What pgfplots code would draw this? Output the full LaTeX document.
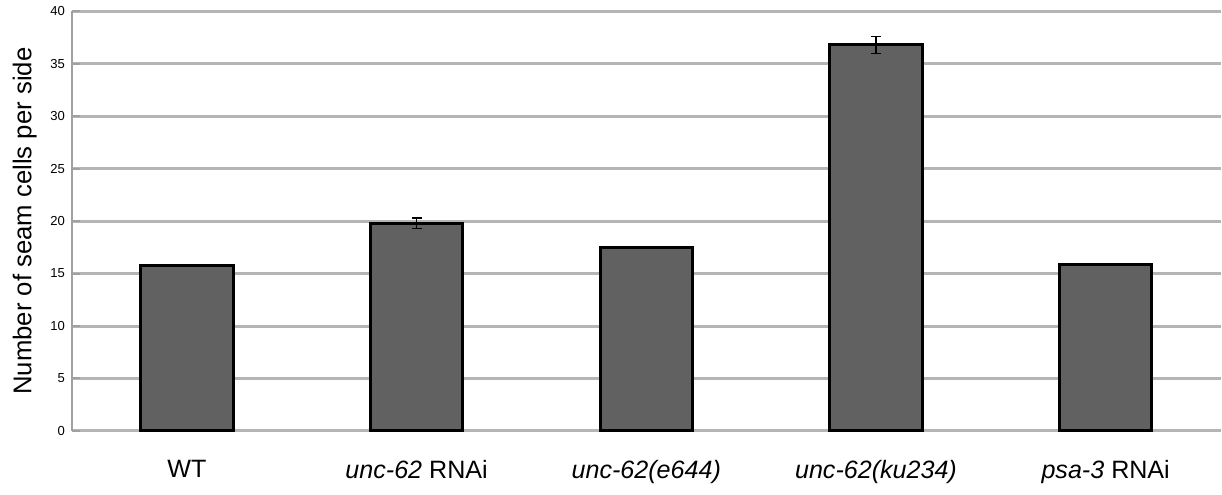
\documentclass[border=0pt]{standalone}
\usepackage{pgfplots}
\pgfplotsset{compat=1.18}
\usepackage{fontspec}
\setmainfont{Liberation Sans}
\definecolor{barfill}{HTML}{616161}
\definecolor{gridc}{HTML}{B5B5B5}
\definecolor{axisc}{HTML}{A0A0A0}
\begin{document}
\begin{tikzpicture}
\begin{axis}[
  scale only axis,
  width=572pt, height=209pt,
  xmin=-0.5, xmax=4.5,
  ymin=0, ymax=40,
  ytick={0,5,...,40},
  xtick=data,
  xticklabels={WT,\textit{unc-62} RNAi,\textit{unc-62(e644)},\textit{unc-62(ku234)},\textit{psa-3} RNAi},
  x tick label style={font=\fontsize{12.5}{14}\selectfont, yshift=-11pt},
  y tick label style={font=\fontsize{6.5}{7.5}\selectfont},
  /pgf/number format/assume math mode=true,
  ylabel={Number of seam cells per side},
  ylabel style={font=\fontsize{12.8}{15}\selectfont},
  axis x line*=bottom,
  x axis line style={draw=none},
  xtick style={draw=none},
  axis y line*=left,
  y axis line style={color=axisc, line width=1.2pt, -},
  ytick style={color=axisc, line width=1pt},
  major tick length=4pt,
  ymajorgrids,
  grid style={color=gridc, line width=1.5pt},
  enlargelimits=false,
  clip=false,
]
\addplot[ybar, bar width=46pt, fill=barfill, draw=black, line width=1.5pt,
  error bars/.cd, y dir=both, y explicit,
  error bar style={black, line width=0.6pt},
  error mark options={rotate=90, mark size=2.5pt, line width=0.6pt, black}]
  coordinates {
  (0,15.8) +- (0,0.08)
  (1,19.8) +- (0,0.5)
  (2,17.45) +- (0,0.05)
  (3,36.8) +- (0,0.8)
  (4,15.85) +- (0,0.05)
  };
\end{axis}
\path ([xshift=-3pt]current bounding box.west);
\path ([yshift=-2pt]current bounding box.south);
\end{tikzpicture}
\end{document}
